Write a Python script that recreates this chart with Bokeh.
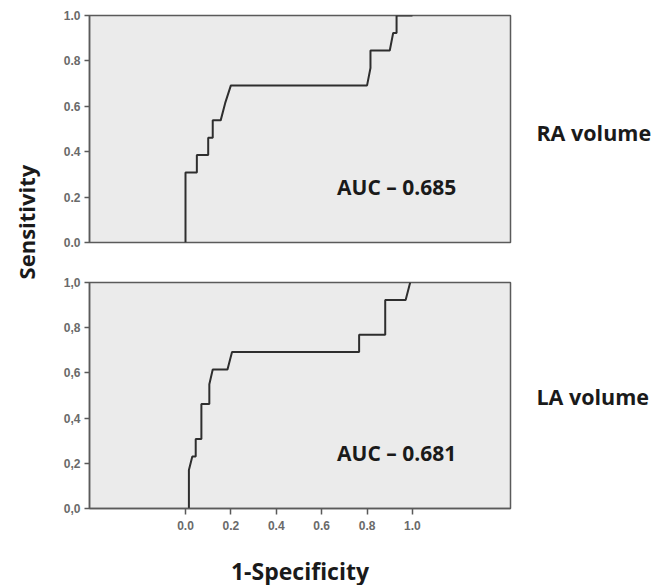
import math
from bokeh.plotting import figure
from bokeh.layouts import row, column
from bokeh.models import Label, FixedTicker, Range1d
from bokeh.embed import file_html
from bokeh.resources import INLINE

# ---- data ----
x_ticks = [0.0, 0.2, 0.4, 0.6, 0.8, 1.0]
x_tick_labels = ["0.0", "0.2", "0.4", "0.6", "0.8", "1.0"]
y_ticks = [0.0, 0.2, 0.4, 0.6, 0.8, 1.0]
y_tick_labels_top = ["0.0", "0.2", "0.4", "0.6", "0.8", "1.0"]
y_tick_labels_bottom = ["0,0", "0,2", "0,4", "0,6", "0,8", "1,0"]

ra_fpr = [0.0, 0.0, 0.05, 0.05, 0.10, 0.10, 0.12, 0.12, 0.155, 0.175, 0.20, 0.80,
          0.815, 0.815, 0.90, 0.915, 0.93, 0.93, 1.0]
ra_tpr = [0.0, 0.308, 0.308, 0.385, 0.385, 0.462, 0.462, 0.538, 0.538, 0.615, 0.692, 0.692,
          0.769, 0.846, 0.846, 0.923, 0.923, 1.0, 1.0]

la_fpr = [0.015, 0.015, 0.03, 0.045, 0.045, 0.07, 0.07, 0.105, 0.105, 0.12, 0.185, 0.205,
          0.765, 0.765, 0.88, 0.88, 0.97, 0.99]
la_tpr = [0.0, 0.17, 0.23, 0.23, 0.308, 0.308, 0.462, 0.462, 0.55, 0.615, 0.615, 0.692,
          0.692, 0.769, 0.769, 0.923, 0.923, 1.0]

panel_names = ["RA volume", "LA volume"]
auc_texts = ["AUC \u2013 0.685", "AUC \u2013 0.681"]

# ---- style ----
BG = "#ebebeb"
FRAME = "#5a5a5a"
CURVE = "#2e2e2e"
TICK_TXT = "#6a6a6a"
TEXT = "#1a1a1a"
BOLD_FONT = "Open Sans"
TICK_FONT = "Liberation Sans"

X0, X1 = -0.423, 1.432
TOTAL_H = 583


def make_panel(fpr, tpr, ylabels, auc, top_border, bottom_border, frame_h, show_x):
    p = figure(frame_width=421, frame_height=frame_h,
               x_range=Range1d(X0, X1), y_range=Range1d(0, 1),
               output_backend="svg", toolbar_location=None,
               min_border_left=41, min_border_right=2,
               min_border_top=top_border, min_border_bottom=bottom_border,
               background_fill_color=BG, border_fill_color="white")
    p.grid.visible = False
    p.outline_line_color = FRAME
    p.outline_line_width = 1.5

    p.yaxis.ticker = FixedTicker(ticks=y_ticks)
    p.yaxis.major_label_overrides = {t: l for t, l in zip(y_ticks, ylabels)}
    p.yaxis.minor_tick_line_color = None
    p.yaxis.major_tick_in = 0
    p.yaxis.major_tick_out = 5
    p.yaxis.major_tick_line_color = FRAME
    p.yaxis.major_tick_line_width = 1.5
    p.yaxis.axis_line_color = FRAME
    p.yaxis.axis_line_width = 1.5
    p.yaxis.major_label_text_font = TICK_FONT
    p.yaxis.major_label_text_font_size = "12px"
    p.yaxis.major_label_text_font_style = "bold"
    p.yaxis.major_label_text_color = TICK_TXT
    p.yaxis.major_label_standoff = 4

    if show_x:
        p.xaxis.ticker = FixedTicker(ticks=x_ticks)
        p.xaxis.major_label_overrides = {t: l for t, l in zip(x_ticks, x_tick_labels)}
        p.xaxis.minor_tick_line_color = None
        p.xaxis.major_tick_in = 0
        p.xaxis.major_tick_out = 6
        p.xaxis.major_tick_line_color = FRAME
        p.xaxis.major_tick_line_width = 1.5
        p.xaxis.axis_line_color = FRAME
        p.xaxis.axis_line_width = 1.5
        p.xaxis.major_label_text_font = TICK_FONT
        p.xaxis.major_label_text_font_size = "12px"
        p.xaxis.major_label_text_font_style = "bold"
        p.xaxis.major_label_text_color = TICK_TXT
        p.xaxis.major_label_standoff = 6
        p.xaxis.axis_label = "1-Specificity"
        p.xaxis.axis_label_text_font = BOLD_FONT
        p.xaxis.axis_label_text_font_style = "bold"
        p.xaxis.axis_label_text_font_size = "23px"
        p.xaxis.axis_label_text_color = TEXT
        p.xaxis.axis_label_standoff = 22
    else:
        p.xaxis.visible = False

    p.line(fpr, tpr, line_color=CURVE, line_width=2)

    p.add_layout(Label(x=0.668, y=0.245, text=auc, text_font=BOLD_FONT,
                       text_font_style="bold", text_font_size="21px",
                       text_color=TEXT, text_baseline="middle"))
    return p


p1 = make_panel(ra_fpr, ra_tpr, y_tick_labels_top, auc_texts[0], 15, 28, 227, False)
p2 = make_panel(la_fpr, la_tpr, y_tick_labels_bottom, auc_texts[1], 12, 75, 226, True)

# left strip with the shared y label
lab = figure(width=48, height=TOTAL_H, x_range=Range1d(0, 1), y_range=Range1d(0, 1),
             output_backend="svg", toolbar_location=None,
             min_border=0, border_fill_color="white", background_fill_color="white")
lab.axis.visible = False
lab.grid.visible = False
lab.outline_line_color = None
lab.add_layout(Label(x=0.53, y=0.62, text="Sensitivity", angle=math.pi / 2,
                     text_font=BOLD_FONT, text_font_style="bold", text_font_size="22px",
                     text_color=TEXT, text_align="center", text_baseline="middle"))

# right strip with the panel names
rgt = figure(width=145, height=TOTAL_H, x_range=Range1d(0, 1), y_range=Range1d(0, 1),
             output_backend="svg", toolbar_location=None,
             min_border=0, border_fill_color="white", background_fill_color="white")
rgt.axis.visible = False
rgt.grid.visible = False
rgt.outline_line_color = None
for name, yy in zip(panel_names, [0.774, 0.321]):
    rgt.add_layout(Label(x=0.165, y=yy, text=name, text_font=BOLD_FONT,
                         text_font_style="bold", text_font_size="21.5px",
                         text_color=TEXT, text_baseline="middle"))

layout = row(lab, column(p1, p2), rgt)

open("out.html", "w").write(file_html(layout, INLINE))
